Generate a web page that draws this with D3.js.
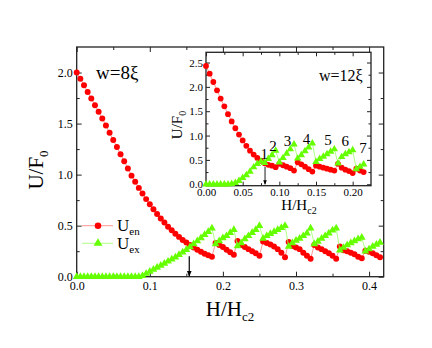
<!DOCTYPE html>
<html>
<head>
<meta charset="utf-8">
<script src="https://cdn.jsdelivr.net/npm/d3@7"></script>
<style>
  body { margin: 0; background: #fff; }
  text { font-family: "Liberation Serif", "Times New Roman", serif; fill: #000; }
</style>
</head>
<body>
<div id="chart"></div>
<script>
var width = 432, height = 348;
var hStep = 0.005;

// main panel (w=8xi), one value every 0.005 in H/Hc2
var mainEn = [2.00, 1.94, 1.875, 1.81, 1.745, 1.68, 1.615, 1.55, 1.48, 1.41, 1.34, 1.27, 1.20, 1.13, 1.06, 0.99,
  0.93, 0.87, 0.815, 0.76, 0.71, 0.66, 0.615, 0.57, 0.53, 0.49, 0.455, 0.42, 0.39, 0.36, 0.335, 0.31, 0.285, 0.265, 0.245, 0.225, 0.21, 0.195,
  0.33, 0.31, 0.29, 0.265, 0.24, 0.215,
  0.35, 0.31, 0.29, 0.27, 0.25, 0.23, 0.205,
  0.345, 0.33, 0.315, 0.295, 0.27, 0.235, 0.19,
  0.34, 0.30, 0.285, 0.27, 0.235, 0.205, 0.175,
  0.31, 0.285, 0.27, 0.25, 0.23, 0.205, 0.175,
  0.295, 0.26, 0.25, 0.235, 0.22, 0.195, 0.18,
  0.255, 0.245, 0.23, 0.21, 0.19];
var mainEx = [0, 0, 0, 0, 0, 0, 0, 0, 0, 0, 0, 0, 0, 0, 0, 0, 0, 0,
  0.01, 0.03, 0.05, 0.07, 0.09, 0.11, 0.13, 0.15, 0.17, 0.19, 0.215, 0.24, 0.265, 0.29, 0.32, 0.35, 0.38, 0.41, 0.44, 0.475,
  0.32, 0.35, 0.38, 0.40, 0.43, 0.46,
  0.30, 0.33, 0.37, 0.40, 0.43, 0.46, 0.50,
  0.375, 0.40, 0.42, 0.44, 0.46, 0.48, 0.50,
  0.295, 0.33, 0.355, 0.375, 0.40, 0.425, 0.475,
  0.32, 0.345, 0.375, 0.40, 0.425, 0.455, 0.475,
  0.26, 0.285, 0.31, 0.33, 0.35, 0.37, 0.385,
  0.25, 0.27, 0.295, 0.315, 0.335];

// inset (w=12xi)
var insetEn = [2.43, 2.27, 2.10, 1.93, 1.76, 1.60, 1.44, 1.29, 1.15, 1.02, 0.90, 0.79, 0.69, 0.61, 0.54, 0.48,
  0.43, 0.40, 0.38, 0.35,
  0.42, 0.39, 0.36, 0.33, 0.28,
  0.45, 0.41, 0.36, 0.31, 0.26,
  0.38, 0.36, 0.34, 0.32, 0.30, 0.28,
  0.42, 0.34, 0.30, 0.27, 0.23,
  0.32, 0.28, 0.25];
var insetEx = [0, 0, 0, 0, 0, 0, 0,
  0.01, 0.03, 0.07, 0.13, 0.19, 0.26, 0.35, 0.42, 0.47,
  0.44, 0.52, 0.60, 0.69,
  0.45, 0.54, 0.63, 0.72, 0.82,
  0.53, 0.60, 0.68, 0.76, 0.84,
  0.46, 0.52, 0.57, 0.62, 0.67, 0.72,
  0.43, 0.56, 0.62, 0.66, 0.70,
  0.31, 0.36, 0.41];

// vortex entry numbers in the inset
var entryLabels = ["1", "2", "3", "4", "5", "6", "7"];
var entryH = [0.0795, 0.0914, 0.111, 0.137, 0.1664, 0.190, 0.214];
var entryU = [0.62, 0.79, 0.90, 0.94, 0.905, 0.89, 0.74];

// ticks
var mainXTicks = [0, 0.1, 0.2, 0.3, 0.4];
var mainXMinor = [0.05, 0.15, 0.25, 0.35];
var mainYTicks = [0, 0.5, 1.0, 1.5, 2.0];
var mainYMinor = [0.25, 0.75, 1.25, 1.75];
var insetXTicks = [0, 0.05, 0.10, 0.15, 0.20];
var insetXMinor = [0.025, 0.075, 0.125, 0.175];
var insetYTicks = [0, 0.5, 1.0, 1.5, 2.0, 2.5];
var insetYMinor = [0.25, 0.75, 1.25, 1.75, 2.25];

var red = "#ff0000", green = "#66ff00";
var redLine = "#ff7a7a", greenLine = "#9cff66";

var svg = d3.select("#chart").append("svg")
  .attr("width", width)
  .attr("height", height);

var defs = svg.append("defs");
defs.append("marker")
  .attr("id", "arrow")
  .attr("viewBox", "0 0 10 10")
  .attr("refX", 9).attr("refY", 5)
  .attr("markerWidth", 5).attr("markerHeight", 6)
  .attr("orient", "auto")
  .append("path").attr("d", "M0,1 L10,5 L0,9 Z").attr("fill", "#000");

// draws the boxed axes with inward ticks on all four sides
function drawFrame(g, x, y, o) {
  var xr = x.range(), yr = y.range();
  g.append("rect")
    .attr("x", xr[0]).attr("y", yr[1])
    .attr("width", xr[1] - xr[0]).attr("height", yr[0] - yr[1])
    .attr("fill", "#fff");

  function ax(axis, tr) {
    var a = g.append("g").attr("transform", tr).call(axis);
    a.select(".domain").remove();
    a.selectAll("line").attr("stroke", "#222").attr("stroke-width", 1);
    a.selectAll("text").attr("font-size", o.font).attr("font-family", "Liberation Serif, serif").attr("fill", "#000");
    return a;
  }
  var bx = "translate(0," + yr[0] + ")", tx = "translate(0," + yr[1] + ")";
  var lx = "translate(" + xr[0] + ",0)", rx = "translate(" + xr[1] + ",0)";

  ax(d3.axisBottom(x).tickValues(o.xt).tickSize(-o.major).tickSizeOuter(0).tickPadding(o.xpad).tickFormat(d3.format(o.xf)), bx);
  ax(d3.axisBottom(x).tickValues(o.xm).tickSize(-o.minor).tickSizeOuter(0).tickFormat(""), bx);
  ax(d3.axisTop(x).tickValues(o.xt).tickSize(-o.major).tickSizeOuter(0).tickFormat(""), tx);
  ax(d3.axisTop(x).tickValues(o.xm).tickSize(-o.minor).tickSizeOuter(0).tickFormat(""), tx);
  ax(d3.axisLeft(y).tickValues(o.yt).tickSize(-o.major).tickSizeOuter(0).tickPadding(o.ypad).tickFormat(d3.format(".1f")), lx);
  ax(d3.axisLeft(y).tickValues(o.ym).tickSize(-o.minor).tickSizeOuter(0).tickFormat(""), lx);
  ax(d3.axisRight(y).tickValues(o.yt).tickSize(-o.major).tickSizeOuter(0).tickFormat(""), rx);
  ax(d3.axisRight(y).tickValues(o.ym).tickSize(-o.minor).tickSizeOuter(0).tickFormat(""), rx);

  g.append("rect")
    .attr("x", xr[0]).attr("y", yr[1])
    .attr("width", xr[1] - xr[0]).attr("height", yr[0] - yr[1])
    .attr("fill", "none").attr("stroke", "#222").attr("stroke-width", 1.3);
}

function drawSeries(g, x, y, vals, color, lineColor, shape, size) {
  var pts = vals.map(function(v, i) { return [i * hStep, v]; });
  var line = d3.line().x(function(d) { return x(d[0]); }).y(function(d) { return y(d[1]); });
  g.append("path").datum(pts)
    .attr("d", line).attr("fill", "none")
    .attr("stroke", lineColor).attr("stroke-width", 0.8);
  g.selectAll(null).data(pts).enter()
    .append("path")
    .attr("transform", function(d) { return "translate(" + x(d[0]) + "," + y(d[1]) + ")"; })
    .attr("d", d3.symbol().type(shape).size(size))
    .attr("fill", color);
}

// ---------- main panel ----------
var x = d3.scaleLinear().domain([0, 0.42]).range([76.7, 383.7]);
var y = d3.scaleLinear().domain([0, 2.25]).range([276.7, 47]);
var main = svg.append("g");
drawFrame(main, x, y, {
  xt: mainXTicks, xm: mainXMinor, yt: mainYTicks, ym: mainYMinor,
  xf: ".1f", font: 12, major: 5, minor: 3, xpad: 5, ypad: 4
});
drawSeries(main, x, y, mainEn, red, redLine, d3.symbolCircle, 28);
drawSeries(main, x, y, mainEx, green, greenLine, d3.symbolTriangle, 26);

main.append("line")
  .attr("x1", x(0.154)).attr("x2", x(0.154))
  .attr("y1", y(0.20)).attr("y2", y(0.005))
  .attr("stroke", "#000").attr("stroke-width", 1.2)
  .attr("marker-end", "url(#arrow)");

main.append("text").attr("x", 96).attr("y", 79).attr("font-size", 19).text("w=8ξ");

// legend
var lg = main.append("g");
lg.append("line").attr("x1", 82).attr("x2", 113).attr("y1", 225.7).attr("y2", 225.7).attr("stroke", redLine).attr("stroke-width", 0.8);
lg.append("path").attr("transform", "translate(98,225.7)").attr("d", d3.symbol().type(d3.symbolCircle).size(34)).attr("fill", red);
lg.append("line").attr("x1", 82).attr("x2", 113).attr("y1", 243.3).attr("y2", 243.3).attr("stroke", greenLine).attr("stroke-width", 0.8);
lg.append("path").attr("transform", "translate(98,243.3)").attr("d", d3.symbol().type(d3.symbolTriangle).size(34)).attr("fill", green);
var t1 = lg.append("text").attr("x", 117).attr("y", 231).attr("font-size", 17);
t1.append("tspan").text("U");
t1.append("tspan").attr("font-size", 11).attr("dy", 4).text("en");
var t2 = lg.append("text").attr("x", 117).attr("y", 249).attr("font-size", 17);
t2.append("tspan").text("U");
t2.append("tspan").attr("font-size", 11).attr("dy", 4).text("ex");

// axis titles
var xt = main.append("text").attr("x", 230).attr("y", 316).attr("text-anchor", "middle").attr("font-size", 21);
xt.append("tspan").text("H/H");
xt.append("tspan").attr("font-size", 13).attr("dy", 5).text("c2");
var yt = main.append("text").attr("transform", "translate(43,170) rotate(-90)").attr("text-anchor", "middle").attr("font-size", 21);
yt.append("tspan").text("U/F");
yt.append("tspan").attr("font-size", 13).attr("dy", 5).text("0");

// ---------- inset ----------
var ix = d3.scaleLinear().domain([0, 0.225]).range([206, 371]);
var iy = d3.scaleLinear().domain([-0.03, 2.71]).range([185.7, 52.3]);
var inset = svg.append("g");
drawFrame(inset, ix, iy, {
  xt: insetXTicks, xm: insetXMinor, yt: insetYTicks, ym: insetYMinor,
  xf: ".2f", font: 11, major: 4, minor: 2.5, xpad: 3, ypad: 3
});
drawSeries(inset, ix, iy, insetEn, red, redLine, d3.symbolCircle, 26);
drawSeries(inset, ix, iy, insetEx, green, greenLine, d3.symbolTriangle, 24);

inset.append("line")
  .attr("x1", ix(0.0805)).attr("x2", ix(0.0805))
  .attr("y1", iy(0.36)).attr("y2", iy(0.0))
  .attr("stroke", "#000").attr("stroke-width", 0.9)
  .attr("marker-end", "url(#arrow)");

inset.selectAll(null).data(entryLabels).enter()
  .append("text")
  .attr("x", function(d, i) { return ix(entryH[i]); })
  .attr("y", function(d, i) { return iy(entryU[i]); })
  .attr("dy", "0.35em")
  .attr("text-anchor", "middle")
  .attr("font-size", 15)
  .text(function(d) { return d; });

inset.append("text").attr("x", 319).attr("y", 81).attr("font-size", 16).text("w=12ξ");

var ixt = inset.append("text").attr("x", 299).attr("y", 210).attr("text-anchor", "middle").attr("font-size", 15);
ixt.append("tspan").text("H/H");
ixt.append("tspan").attr("font-size", 10).attr("dy", 4).text("c2");
var iyt = inset.append("text").attr("transform", "translate(182,125) rotate(-90)").attr("text-anchor", "middle").attr("font-size", 15);
iyt.append("tspan").text("U/F");
iyt.append("tspan").attr("font-size", 10).attr("dy", 4).text("0");
</script>
</body>
</html>
